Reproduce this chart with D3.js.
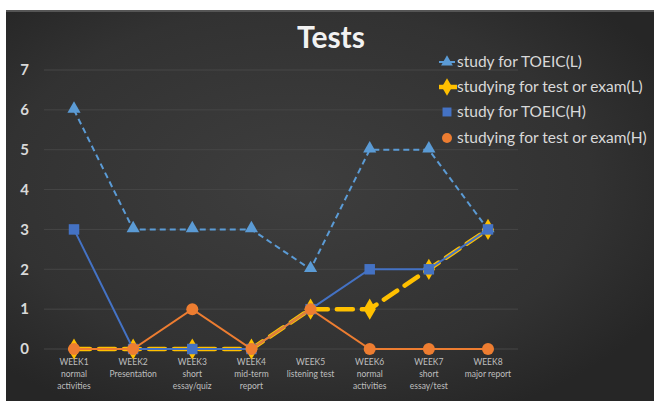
<!DOCTYPE html>
<html><head><meta charset="utf-8">
<script src="https://cdn.jsdelivr.net/npm/d3@7"></script>
<style>html,body{margin:0;padding:0;background:#fff;}svg{display:block;}</style>
</head><body>
<svg id="c" width="654" height="405"></svg>
<script>
const weeks = [
  ["WEEK1","normal","activities"],
  ["WEEK2","Presentation"],
  ["WEEK3","short","essay/quiz"],
  ["WEEK4","mid-term","report"],
  ["WEEK5","listening test"],
  ["WEEK6","normal","activities"],
  ["WEEK7","short","essay/test"],
  ["WEEK8","major report"]
];
const toeicL = [6,3,3,3,2,5,5,3];
const testL  = [0,0,0,0,1,1,2,3];
const toeicH = [3,0,0,0,1,2,2,3];
const testH  = [0,0,1,0,1,0,0,0];
const yTicks = [0,1,2,3,4,5,6,7];
const seriesNames = ["study for TOEIC(L)","studying for test or exam(L)","study for TOEIC(H)","studying for test or exam(H)"];

const svg = d3.select("#c");
const defs = svg.append("defs");
const rg = defs.append("radialGradient").attr("id","bg").attr("cx","45%").attr("cy","45%").attr("r","65%");
rg.append("stop").attr("offset","0%").attr("stop-color","#3e3e3e");
rg.append("stop").attr("offset","70%").attr("stop-color","#323232");
rg.append("stop").attr("offset","100%").attr("stop-color","#262626");
svg.append("rect").attr("x",6).attr("y",10).attr("width",648).attr("height",391).attr("fill","url(#bg)");
svg.append("rect").attr("x",6).attr("y",10).attr("width",648).attr("height",2).attr("fill","#555");

const x = d3.scalePoint().domain(d3.range(8)).range([74,488]);
const y = d3.scaleLinear().domain([0,7]).range([349,70]);

// gridlines
svg.append("g").selectAll("line").data(yTicks).join("line")
  .attr("x1",44).attr("x2",518).attr("y1",d=>y(d)).attr("y2",d=>y(d))
  .attr("stroke","#464646").attr("stroke-width",1);

// y axis labels
const yAxis = d3.axisLeft(y).tickValues(yTicks).tickFormat(d3.format("d")).tickSize(0).tickPadding(0);
const yg = svg.append("g").attr("transform","translate(29,0)").call(yAxis);
yg.select(".domain").remove();
yg.selectAll("text").attr("fill","#d9d9d9").attr("font-family","Lato, 'Open Sans', sans-serif").attr("font-size",15).attr("font-weight","bold");

// x labels
const xl = svg.append("g").selectAll("text").data(weeks).join("text")
  .attr("x",(d,i)=>x(i)).attr("y",365).attr("text-anchor","middle")
  .attr("fill","#bfbfbf").attr("font-family","Lato, 'Open Sans', sans-serif").attr("font-size",8.5);
xl.each(function(d){
  const t = d3.select(this);
  d.forEach((s,j)=>t.append("tspan").attr("x",t.attr("x")).attr("dy",j===0?0:12).text(s));
});

const line = d3.line().x((d,i)=>x(i)).y(d=>y(d));
const sym = (type,size)=>d3.symbol().type(type).size(size)();

// TOEIC(L)
svg.append("path").datum(toeicL).attr("d",line).attr("fill","none")
  .attr("stroke","#5B9BD5").attr("stroke-width",2).attr("stroke-dasharray","6,4");
svg.append("g").selectAll("path").data(toeicL).join("path")
  .attr("transform",(d,i)=>`translate(${x(i)},${y(d)-1})`).attr("d",sym(d3.symbolTriangle,75)).attr("fill","#5B9BD5");

// Test(L)
svg.append("path").datum(testL).attr("d",line).attr("fill","none")
  .attr("stroke","#FFC000").attr("stroke-width",4.5).attr("stroke-dasharray","16,9").attr("stroke-linecap","round");
svg.append("g").selectAll("path").data(testL).join("path")
  .attr("transform",(d,i)=>`translate(${x(i)},${y(d)})`).attr("d",sym(d3.symbolDiamond,130)).attr("fill","#FFC000");

// TOEIC(H)
svg.append("path").datum(toeicH).attr("d",line).attr("fill","none")
  .attr("stroke","#4472C4").attr("stroke-width",2);
svg.append("g").selectAll("path").data(toeicH).join("path")
  .attr("transform",(d,i)=>`translate(${x(i)},${y(d)})`).attr("d",sym(d3.symbolSquare,110)).attr("fill","#4472C4");

// Test(H)
svg.append("path").datum(testH).attr("d",line).attr("fill","none")
  .attr("stroke","#ED7D31").attr("stroke-width",2);
svg.append("g").selectAll("circle").data(testH).join("circle")
  .attr("cx",(d,i)=>x(i)).attr("cy",d=>y(d)).attr("r",6).attr("fill","#ED7D31");

// title
svg.append("text").attr("x",331).attr("y",48).attr("text-anchor","middle")
  .attr("fill","#f2f2f2").attr("font-family","Lato, 'Open Sans', sans-serif").attr("font-weight","bold").attr("font-size",30).text("Tests");

// legend
const lg = svg.append("g");
const ly = [62,87,112,138];
const lf = "Lato, 'Open Sans', sans-serif";
const items = lg.selectAll("g").data(seriesNames).join("g").attr("transform",(d,i)=>`translate(447,${ly[i]})`);
items.append("text").attr("x",10).attr("dy","0.35em").attr("fill","#d9d9d9").attr("font-family",lf).attr("font-size",15.5).text(d=>d);
items.filter((d,i)=>i===0).append("line").attr("x1",-8).attr("x2",10).attr("stroke","#5B9BD5").attr("stroke-width",2).attr("stroke-dasharray","6,4");
items.filter((d,i)=>i===0).append("path").attr("d",sym(d3.symbolTriangle,60)).attr("fill","#5B9BD5");
items.filter((d,i)=>i===1).append("line").attr("x1",-8).attr("x2",10).attr("stroke","#FFC000").attr("stroke-width",4.5);
items.filter((d,i)=>i===1).append("path").attr("d",sym(d3.symbolDiamond,90)).attr("fill","#FFC000");
items.filter((d,i)=>i===2).append("path").attr("d",sym(d3.symbolSquare,80)).attr("fill","#4472C4");
items.filter((d,i)=>i===3).append("circle").attr("r",5).attr("fill","#ED7D31");
</script>
</body></html>
